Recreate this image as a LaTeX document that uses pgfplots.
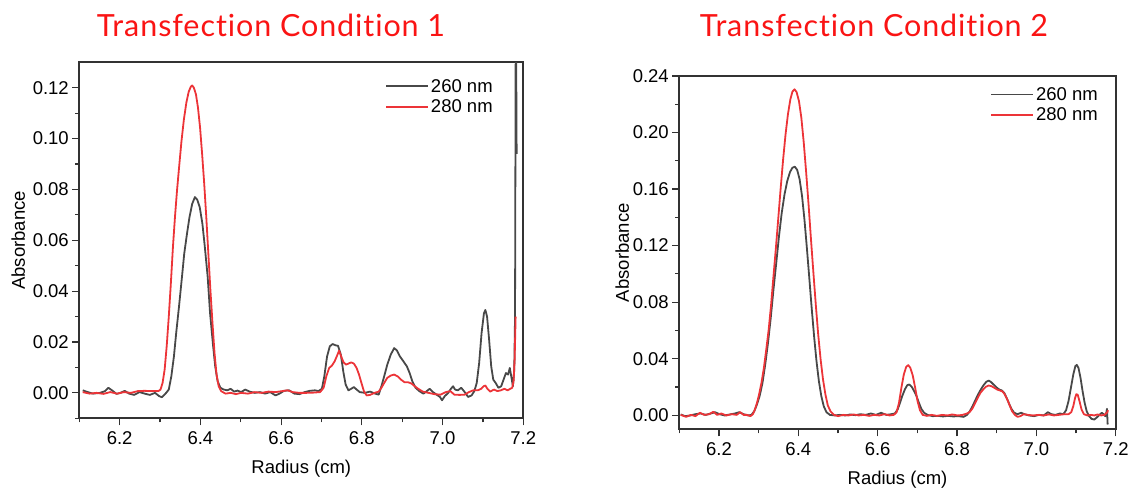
\documentclass[border=0pt]{standalone}
\usepackage{fontspec}
\setmainfont{Liberation Sans}
\newfontfamily\titlefont[Ligatures={NoCommon}, LetterSpace=3]{Lato}
\usepackage{pgfplots}
\pgfplotsset{compat=1.18}
\definecolor{cgray}{RGB}{72,72,72}
\definecolor{cred}{RGB}{236,52,56}
\definecolor{axgray}{RGB}{50,50,50}
\definecolor{titlered}{RGB}{250,20,20}
\pgfplotsset{
 myax/.style={
  scale only axis, xmin=6.1, xmax=7.2,
  xtick={6.2,6.4,6.6,6.8,7.0,7.2},
  minor xtick={6.1,6.3,6.5,6.7,6.9,7.1},
  tick align=outside, xtick pos=left, ytick pos=left,
  major tick length=7pt, minor tick length=4pt,
  every tick/.style={axgray, line width=1.2pt},
  axis line style={axgray, line width=1.7pt},
  tick label style={font=\fontsize{18.5}{20}\selectfont},
  label style={font=\fontsize{18.5}{20}\selectfont},
  /pgf/number format/assume math mode=true,
  xticklabel style={yshift=-3pt, /pgf/number format/.cd, fixed, fixed zerofill, precision=1},
  yticklabel style={/pgf/number format/.cd, fixed, fixed zerofill, precision=2},
  scaled y ticks=false,
  legend style={draw=none, fill=none, font=\fontsize{18.5}{20}\selectfont, inner sep=0pt, row sep=2pt, anchor=north east},
  legend cell align=left,
  legend image code/.code={\draw[##1] (0pt,0pt) -- (42pt,0pt);},
  every axis plot/.append style={line width=1.8pt, line join=round},
  xlabel={Radius (cm)}, ylabel={Absorbance},
  xlabel style={at={([yshift=-50pt]axis description cs:0.5,0)}, anchor=center},
 }
}
\begin{document}
\begin{tikzpicture}[x=1pt,y=1pt]
\useasboundingbox (0,0) rectangle (1131,489);
\node[font=\titlefont\fontsize{30.5}{36}\selectfont, text=titlered, anchor=base] at (271,452.3) {Transfection Condition 1};
\node[font=\titlefont\fontsize{30.5}{36}\selectfont, text=titlered, anchor=base] at (874,452.3) {Transfection Condition 2};
\begin{axis}[myax, at={(79.3pt,70.7pt)}, anchor=south west, width=444pt, height=356pt,
  ymin=-0.01, ymax=0.13, ytick={0,0.02,0.04,0.06,0.08,0.10,0.12},
  minor ytick={-0.01,0.01,0.03,0.05,0.07,0.09,0.11},
  ylabel style={at={([xshift=-61pt]axis description cs:0,0.5)}, anchor=center},
  legend style={at={(0.936,0.959)}}]
\addplot[cgray] coordinates {
(6.1085,0.0010)(6.121,0.0003)(6.134,-0.0003)(6.151,0)(6.164,0.0007)(6.172,0.0020)(6.181,0.0010)(6.192,-0.0004)
(6.202,0)(6.2125,0.0008)(6.2236,-0.0003)(6.236,-0.0008)(6.249,0.0003)(6.262,-0.0003)(6.2748,-0.0008)(6.2876,0)
(6.298,-0.0013)(6.3046,-0.0017)(6.313,-0.0004)(6.3217,0.0013)(6.328,0.0065)(6.3344,0.0143)(6.34,0.0235)(6.347,0.0339)
(6.354,0.045)(6.36,0.0548)(6.3668,0.0626)(6.373,0.0691)(6.3796,0.0743)(6.3864,0.0770)(6.3924,0.0759)(6.3984,0.0730)
(6.405,0.0665)(6.411,0.0574)(6.418,0.0457)(6.424,0.0313)(6.4308,0.0196)(6.4367,0.0104)(6.4427,0.0046)(6.4495,0.0020)
(6.458,0.0013)(6.4666,0.0010)(6.475,0.0016)(6.4836,0.0005)(6.492,0.0009)(6.5007,0.0003)(6.511,0.0013)(6.522,0.0005)
(6.5348,0)(6.5476,0.0003)(6.5604,-0.0003)(6.573,0.0003)(6.586,-0.0010)(6.596,-0.0003)(6.607,0.0008)(6.62,0.0010)
(6.6328,-0.0003)(6.6456,-0.0005)(6.6584,0.0003)(6.671,0.0008)(6.684,0.0010)(6.6925,0.0007)(6.701,0.0016)(6.707,0.0065)
(6.7138,0.0143)(6.7206,0.0183)(6.7275,0.0192)(6.735,0.0187)(6.741,0.0185)(6.748,0.0150)(6.7539,0.0085)(6.7598,0.0033)
(6.7667,0.0010)(6.7735,0.0016)(6.7803,0.0023)(6.787,0.0013)(6.7948,0.0003)(6.8076,0)(6.8204,0.0005)(6.833,-0.0003)
(6.8417,-0.0007)(6.8485,0.0026)(6.8553,0.0065)(6.863,0.0111)(6.8715,0.0150)(6.88,0.0176)(6.8869,0.0167)(6.8945,0.0143)
(6.903,0.0124)(6.9116,0.0104)(6.9184,0.0078)(6.925,0.0046)(6.933,0.0020)(6.9423,0.0007)(6.9525,-0.0003)(6.961,0.0007)
(6.9679,0.0016)(6.9764,0.0003)(6.985,-0.0007)(6.9935,-0.0016)(6.9986,-0.0029)(7.0054,-0.0013)(7.014,0)(7.0207,0.0016)
(7.026,0.0026)(7.031,0.0013)(7.0378,0.0010)(7.0463,0.0020)(7.0548,0.0003)(7.0633,-0.0016)(7.0719,-0.0010)(7.0787,0.0007)
(7.0846,0.0039)(7.0906,0.0117)(7.0966,0.0235)(7.1025,0.0313)(7.106,0.0326)(7.1102,0.0300)(7.1153,0.0209)(7.1205,0.0104)
(7.1256,0.0052)(7.1315,0.0039)(7.1384,0.0020)(7.1452,0.0026)(7.1511,0.0052)(7.157,0.0078)(7.1623,0.0072)(7.1665,0.0098)
(7.1708,0.0059)(7.1742,0.0026)(7.1776,0.0091)(7.1795,0.03)(7.1815,0.16)(7.1835,0.094)
};
\addlegendentry{260 nm}
\addplot[cred] coordinates {
(6.1085,0.0003)(6.1256,-0.0003)(6.1426,0)(6.1597,-0.0004)(6.1767,0.0003)(6.1938,-0.0003)(6.2108,0.0003)(6.2279,0)
(6.245,0.0007)(6.262,0.0008)(6.279,0.0007)(6.296,0.0007)(6.3012,0.0013)(6.3063,0.0039)(6.3114,0.0091)(6.3165,0.0183)
(6.3217,0.0300)(6.3268,0.0430)(6.332,0.0574)(6.337,0.0691)(6.3421,0.0796)(6.3472,0.0887)(6.3532,0.0991)(6.3592,0.1076)
(6.3652,0.1141)(6.371,0.1184)(6.3762,0.1204)(6.3796,0.1209)(6.3838,0.1200)(6.389,0.1174)(6.394,0.1122)(6.3992,0.1043)
(6.4043,0.0939)(6.4095,0.0822)(6.4146,0.0691)(6.4197,0.0548)(6.4248,0.0404)(6.43,0.0274)(6.435,0.0157)(6.44,0.0072)
(6.4453,0.0026)(6.4512,0.0007)(6.4623,-0.0003)(6.475,0)(6.4879,-0.0005)(6.5007,0)(6.5177,-0.0003)(6.5348,0.0003)
(6.5518,0)(6.5689,0.0005)(6.586,0.0003)(6.603,0.0007)(6.6158,0.0010)(6.6286,0.0003)(6.6456,0)(6.6627,0)
(6.6797,0.0001)(6.6967,0.0003)(6.7053,0.0020)(6.712,0.0065)(6.719,0.0098)(6.7257,0.0107)(6.7326,0.0124)(6.7385,0.0146)
(6.7436,0.0166)(6.7488,0.0143)(6.7547,0.0120)(6.7607,0.0111)(6.7667,0.0115)(6.7735,0.0120)(6.7803,0.0115)(6.787,0.0098)
(6.793,0.0072)(6.799,0.0039)(6.805,0.0007)(6.8118,-0.0010)(6.8204,-0.0008)(6.8315,0)(6.8417,0.0005)(6.8485,0.0020)
(6.8553,0.0039)(6.863,0.0059)(6.8715,0.0068)(6.88,0.0072)(6.8886,0.0065)(6.897,0.0052)(6.9056,0.0042)(6.9141,0.0042)
(6.9227,0.0037)(6.9312,0.0026)(6.9397,0.0016)(6.9508,0.0005)(6.9653,0)(6.9798,-0.0005)(6.9951,-0.0007)(7.008,0.0003)
(7.019,0.0007)(7.0292,-0.0007)(7.042,-0.0008)(7.0548,-0.0007)(7.065,0.0003)(7.076,0.0010)(7.0872,0.0010)(7.0957,0.0016)
(7.1017,0.0026)(7.106,0.0029)(7.111,0.0016)(7.118,0.0005)(7.1273,0.0013)(7.1358,0.0007)(7.1444,0.0010)(7.153,0.0016)
(7.1614,0.0010)(7.1674,0.0016)(7.1725,0.0020)(7.1759,0.0046)(7.1785,0.0130)(7.181,0.0300)
};
\addlegendentry{280 nm}
\end{axis}
\begin{axis}[myax, at={(679.3pt,59.7pt)}, anchor=south west, width=436.4pt, height=353.3pt,
  ymin=-0.01, ymax=0.24, ytick={0,0.04,0.08,0.12,0.16,0.20,0.24},
  minor ytick={0.02,0.06,0.10,0.14,0.18,0.22},
  ylabel style={at={([xshift=-57pt]axis description cs:0,0.5)}, anchor=center},
  legend style={at={(0.964,0.9745)}}]
\addplot[cgray] coordinates {
(6.1035,0.0005)(6.1147,-0.0007)(6.1277,-0.0002)(6.1407,0.0007)(6.1537,0.0012)(6.1667,0.0002)(6.1797,0.0012)(6.19,0.0021)
(6.2014,0.0007)(6.2144,-0.0002)(6.2274,0.0005)(6.2404,0.0012)(6.2508,0.0021)(6.262,0.0007)(6.2733,-0.0002)(6.282,0.0002)
(6.2889,0.0028)(6.2958,0.0076)(6.3028,0.0139)(6.3097,0.0229)(6.3166,0.0359)(6.3236,0.0512)(6.3305,0.0689)(6.3374,0.0890)
(6.3444,0.1078)(6.3513,0.1267)(6.3582,0.1432)(6.3652,0.1562)(6.3721,0.1657)(6.379,0.1720)(6.3851,0.1751)(6.3912,0.1758)
(6.3972,0.1735)(6.4033,0.1668)(6.4094,0.1550)(6.4154,0.1385)(6.4215,0.1185)(6.4276,0.0972)(6.4336,0.0760)(6.4397,0.0559)
(6.4458,0.0382)(6.4518,0.0241)(6.4579,0.0135)(6.464,0.0064)(6.4709,0.0021)(6.4796,0.0002)(6.4917,-0.0002)(6.5047,0.0002)
(6.5177,-0.0002)(6.5307,0.0005)(6.5437,0)(6.5567,0.0007)(6.5697,0.0002)(6.5827,0.0012)(6.5957,0.0002)(6.6087,0.0017)
(6.6217,0.0002)(6.6347,0.0007)(6.6433,0.0012)(6.6503,0.0040)(6.6563,0.0087)(6.6624,0.0139)(6.6685,0.0182)(6.6745,0.0212)
(6.6797,0.0217)(6.6858,0.0201)(6.6919,0.0170)(6.6979,0.0135)(6.704,0.0087)(6.71,0.0045)(6.717,0.0017)(6.7257,0.0002)
(6.7387,-0.0007)(6.7516,-0.0005)(6.7646,-0.0009)(6.7776,-0.0005)(6.7906,-0.0009)(6.8036,-0.0007)(6.8166,-0.0012)(6.8253,0.0002)
(6.8322,0.0028)(6.8392,0.0064)(6.8461,0.0106)(6.853,0.0146)(6.86,0.0182)(6.8669,0.0212)(6.8738,0.0236)(6.8799,0.0245)
(6.8859,0.0234)(6.892,0.0217)(6.899,0.0198)(6.9059,0.0182)(6.9128,0.0175)(6.9189,0.0158)(6.925,0.0123)(6.931,0.0083)
(6.9371,0.0045)(6.944,0.0017)(6.9527,0.0007)(6.9614,0.0017)(6.97,0.0007)(6.9813,-0.0002)(6.9943,-0.0007)(7.0073,0.0002)
(7.0186,-0.0002)(7.029,0.0021)(7.0377,0.0007)(7.0481,0.0002)(7.0594,0.0012)(7.068,0.0007)(7.0749,0.0035)(7.081,0.0099)
(7.0871,0.0194)(7.0931,0.0288)(7.0983,0.0347)(7.1018,0.0356)(7.1061,0.0335)(7.1113,0.0264)(7.1165,0.0170)(7.1217,0.0087)
(7.1269,0.0028)(7.133,-0.0007)(7.139,-0.0026)(7.146,-0.0031)(7.152,-0.0017)(7.159,0.0002)(7.165,0.0017)(7.1693,0.0007)
(7.1737,-0.0007)(7.1763,0.0017)(7.178,0.0045)(7.1797,-0.0066)
};
\addlegendentry{260 nm}
\addplot[cred] coordinates {
(6.1035,0.0002)(6.1173,-0.0012)(6.1295,0.0002)(6.1407,-0.0007)(6.152,0.0017)(6.1624,0.0002)(6.1754,0.0007)(6.1858,0.0024)
(6.1953,0.0002)(6.2057,0.0012)(6.2187,-0.0002)(6.2317,0.0007)(6.2447,0.0002)(6.2534,0.0021)(6.262,0.0002)(6.2707,0.0002)
(6.2794,-0.0007)(6.2854,0.0007)(6.2906,0.0040)(6.2958,0.0087)(6.301,0.0146)(6.3071,0.0229)(6.3132,0.0335)(6.3192,0.0465)
(6.3253,0.0606)(6.3314,0.0783)(6.3374,0.0984)(6.3435,0.1185)(6.3496,0.1397)(6.3556,0.1609)(6.3617,0.1810)(6.3678,0.1987)
(6.3738,0.2129)(6.3799,0.2235)(6.3851,0.2289)(6.3903,0.2306)(6.3955,0.2287)(6.4016,0.2223)(6.4076,0.2105)(6.4137,0.1928)
(6.4198,0.1716)(6.4258,0.1491)(6.4319,0.1244)(6.438,0.1008)(6.444,0.0783)(6.4501,0.0571)(6.4562,0.0394)(6.4622,0.0253)
(6.4683,0.0146)(6.4744,0.0068)(6.4813,0.0026)(6.49,0.0002)(6.5003,-0.0007)(6.5133,0.0002)(6.5263,-0.0002)(6.5393,0.0005)
(6.5523,-0.0002)(6.5653,0.0002)(6.5783,-0.0005)(6.5913,0.0002)(6.6043,-0.0002)(6.6173,0.0007)(6.6303,-0.0002)(6.6407,0.0002)
(6.6477,0.0021)(6.6537,0.0087)(6.6598,0.0194)(6.6659,0.0288)(6.6719,0.0342)(6.6771,0.0354)(6.6823,0.0335)(6.6884,0.0281)
(6.6945,0.0194)(6.7005,0.0099)(6.7066,0.0035)(6.7135,0.0002)(6.7239,-0.0005)(6.7361,0.0002)(6.7499,-0.0005)(6.762,0.0002)
(6.7759,-0.0002)(6.788,0.0005)(6.8019,-0.0002)(6.814,0.0002)(6.8253,0.0012)(6.8314,0.0021)(6.8383,0.0045)(6.8452,0.0083)
(6.8522,0.0123)(6.8591,0.0158)(6.866,0.0182)(6.8729,0.0201)(6.8799,0.0210)(6.8868,0.0205)(6.8938,0.0194)(6.9007,0.0182)
(6.9076,0.0175)(6.9146,0.0168)(6.9206,0.0146)(6.9267,0.0111)(6.9328,0.0068)(6.9388,0.0028)(6.9458,0.0002)(6.9527,-0.0012)
(6.9596,-0.0007)(6.9683,0.0007)(6.9787,0.0002)(6.9917,-0.0002)(7.0047,0.0002)(7.0186,-0.0002)(7.0316,0.0005)(7.0446,-0.0002)
(7.0567,0.0002)(7.0705,0.0007)(7.081,0.0007)(7.0879,0.0021)(7.0931,0.0064)(7.0974,0.0120)(7.1009,0.0149)(7.1043,0.0144)
(7.1087,0.0099)(7.1139,0.0040)(7.1199,0.0007)(7.1286,-0.0002)(7.1373,0.0002)(7.146,-0.0002)(7.1546,0.0005)(7.1633,-0.0002)
(7.1719,0.0002)(7.1789,0.0021)(7.1806,0.0035)
};
\addlegendentry{280 nm}
\end{axis}
\end{tikzpicture}
\end{document}
